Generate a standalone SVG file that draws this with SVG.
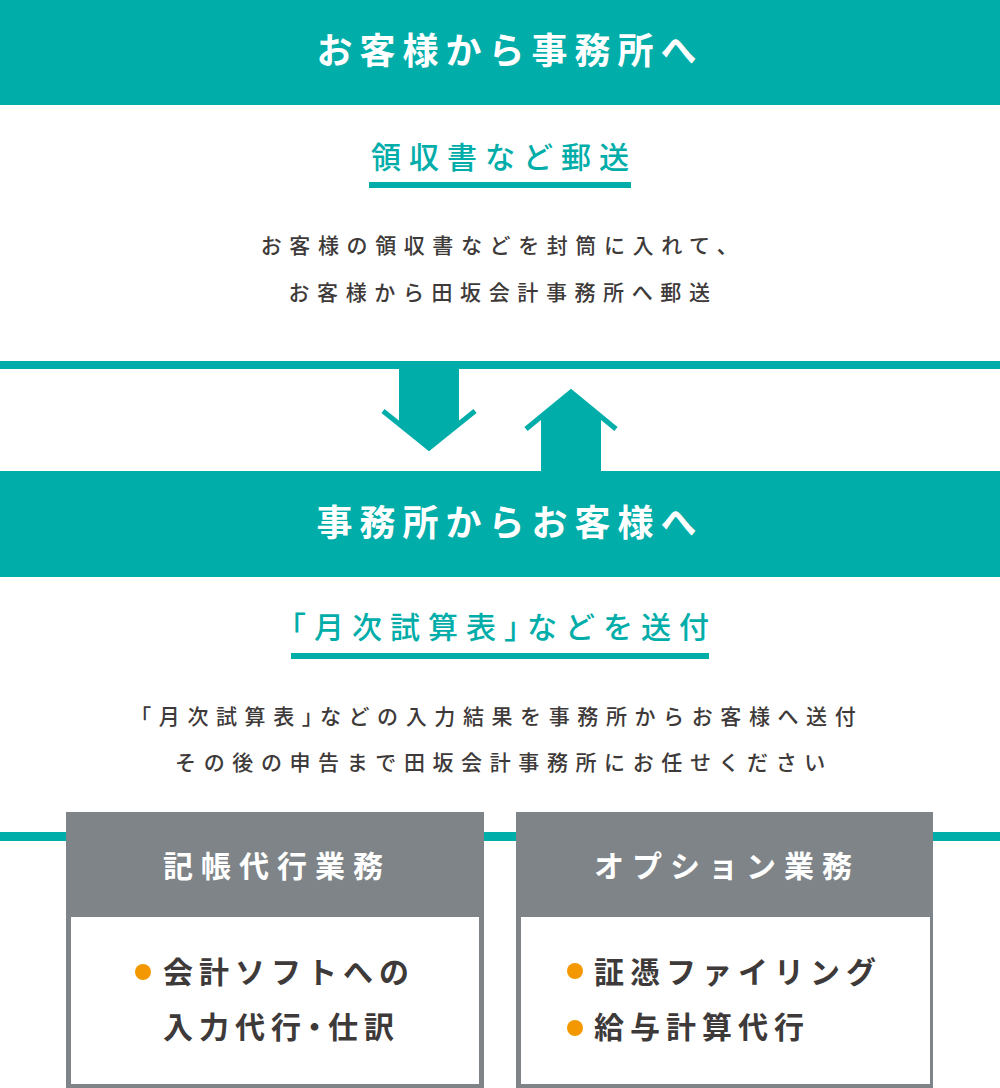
<svg xmlns="http://www.w3.org/2000/svg" width="1000" height="1088" viewBox="0 0 1000 1088">
<style>
text{font-family:"Noto Sans CJK JP","Noto Sans",sans-serif;}
.band{fill:#00ada9;}
.title{fill:#fff;font-size:36px;font-weight:700;letter-spacing:7px;text-anchor:middle;}
.sub{fill:#00ada9;font-size:30px;font-weight:500;letter-spacing:8px;text-anchor:middle;}
.body{fill:#3e3a39;font-size:21px;font-weight:500;letter-spacing:7.6px;text-anchor:middle;}
.hd{fill:#fff;font-size:30px;font-weight:700;letter-spacing:8px;text-anchor:middle;}
.item{fill:#3e3a39;font-size:30px;font-weight:700;letter-spacing:6px;}
.h{font-feature-settings:"halt";}
.dot{fill:#f39800;}
.gray{fill:#7e8487;}
.arw{fill:#00ada9;}
.chev{fill:none;stroke:#00ada9;stroke-width:5;stroke-linejoin:miter;stroke-miterlimit:10;}
</style>
<g id="step1">
<rect class="band" x="0" y="0" width="1000" height="105"/>
<text class="title" x="510" y="64">お客様から事務所へ</text>
<text class="sub" x="504" y="168">領収書など郵送</text>
<rect class="band" x="369" y="182" width="262" height="6"/>
<text class="body" x="503" y="253">お客様の領収書などを封筒に入れて、</text>
<text class="body" x="503" y="300">お客様から田坂会計事務所へ郵送</text>
</g>
<g id="connectors">
<rect class="band" x="0" y="361" width="1000" height="8"/>
<g id="arrow-down">
<rect class="arw" x="399" y="369" width="60" height="56"/>
<polygon class="arw" points="399,425 459,425 429,451"/>
<polyline class="chev" points="383,411 429,448 475,411"/>
</g>
<g id="arrow-up">
<rect class="arw" x="541" y="416" width="60" height="56"/>
<polygon class="arw" points="541,417 601,417 571,391"/>
<polyline class="chev" points="526,429 571,392 616,429"/>
</g>
<rect class="band" x="0" y="832" width="1000" height="9"/>
</g>
<g id="step2">
<rect class="band" x="0" y="471" width="1000" height="106"/>
<text class="title" x="510" y="536">事務所からお客様へ</text>
<text class="sub" x="504" y="638"><tspan class="h">「</tspan>月次試算表<tspan class="h">」</tspan>などを送付</text>
<rect class="band" x="291" y="653" width="418" height="6"/>
<text class="body" x="502" y="724"><tspan class="h">「</tspan>月次試算表<tspan class="h">」</tspan>などの入力結果を事務所からお客様へ送付</text>
<text class="body" x="504" y="770">その後の申告まで田坂会計事務所にお任せください</text>
</g>
<g id="box-kicho">
<rect class="gray" x="66" y="812" width="418" height="276"/>
<rect x="71" y="917" width="408" height="167" fill="#fff"/>
<text class="hd" x="277" y="877">記帳代行業務</text>
<circle class="dot" cx="143" cy="972" r="8"/>
<text class="item" x="163" y="983">会計ソフトへの</text>
<text class="item" x="163" y="1038">入力代行<tspan class="h">・</tspan>仕訳</text>
</g>
<g id="box-option">
<rect class="gray" x="516" y="812" width="417" height="276"/>
<rect x="521" y="917" width="409" height="167" fill="#fff"/>
<text class="hd" x="727" y="877">オプション業務</text>
<circle class="dot" cx="575" cy="971" r="8"/>
<text class="item" x="594" y="983">証憑ファイリング</text>
<circle class="dot" cx="575" cy="1028" r="8"/>
<text class="item" x="594" y="1038">給与計算代行</text>
</g>
</svg>
